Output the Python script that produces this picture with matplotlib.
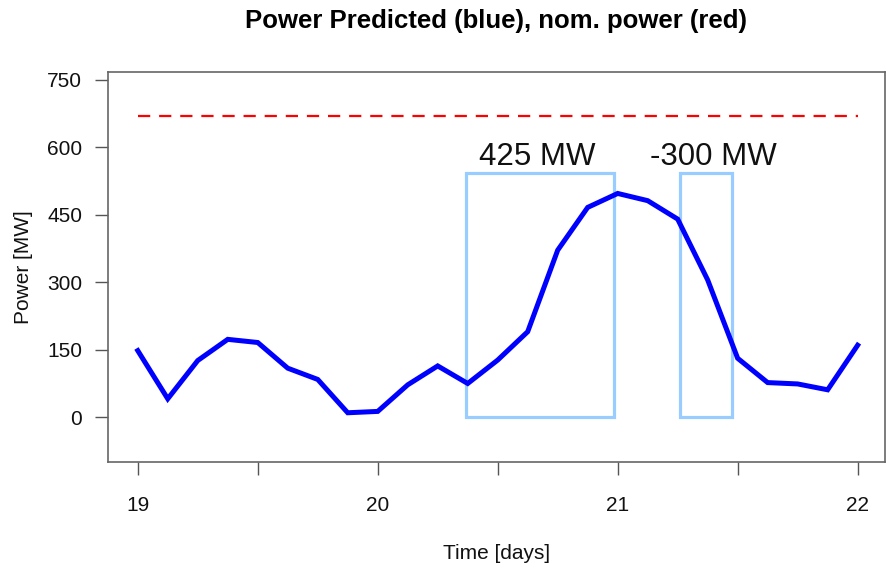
import matplotlib.pyplot as plt
from matplotlib.patches import Rectangle

# values
time_days = [19.0, 19.125, 19.25, 19.375, 19.5, 19.625, 19.75, 19.875,
             20.0, 20.125, 20.25, 20.375, 20.5, 20.625, 20.75, 20.875,
             21.0, 21.125, 21.25, 21.375, 21.5, 21.625, 21.75, 21.875, 22.0]
power_pred = [148, 41, 126, 173, 166, 109, 84, 10,
              13, 72, 114, 75, 127, 190, 371, 466,
              497, 481, 440, 305, 131, 77, 74, 61, 160]
nom_power = 668

# highlighted windows: (start day, end day, top MW)
box_start = [20.367, 21.26]
box_end = [20.985, 21.477]
box_top = [543, 543]
box_labels = ['425 MW', '-300 MW']
label_x = [20.666, 21.399]
label_y = [578, 578]

x_ticks = [19, 19.5, 20, 20.5, 21, 21.5, 22]
x_ticklabels = ['19', '', '20', '', '21', '', '22']
y_ticks = [0, 150, 300, 450, 600, 750]

plt.rcParams['font.family'] = ['Liberation Sans', 'DejaVu Sans']

fig = plt.figure(figsize=(8.87, 5.69), dpi=100)
ax = fig.add_axes([108 / 887, 1 - 462.3 / 569, (885 - 108) / 887, (462.3 - 72.3) / 569])

ax.plot([time_days[0], time_days[-1]], [nom_power, nom_power],
        color='#FF0000', lw=1.6, dashes=(5.5, 4))

for x0, x1, top in zip(box_start, box_end, box_top):
    ax.add_patch(Rectangle((x0, 0), x1 - x0, top, fill=False,
                           edgecolor='#99CCFF', lw=2.3))

ax.plot(time_days, power_pred, color='#0000FF', lw=3.6, solid_joinstyle='miter')

for lab, lx, ly in zip(box_labels, label_x, label_y):
    ax.text(lx, ly, lab, ha='center', va='center', fontsize=22.5, color='#111111')

ax.set_xlim(18.876, 22.114)
ax.set_ylim(-100, 766)
ax.set_xticks(x_ticks)
ax.set_xticklabels(x_ticklabels)
ax.set_yticks(y_ticks)
ax.tick_params(axis='both', length=9.2, width=1, color='#555555',
               labelsize=15, labelcolor='#111111')
ax.tick_params(axis='x', pad=15)
ax.tick_params(axis='y', pad=9.4)
for sp in ax.spines.values():
    sp.set_color('#666666')
    sp.set_linewidth(1.2)

ax.set_xlabel('Time [days]', fontsize=15, color='#111111')
ax.xaxis.set_label_coords(0.5, -0.21)
ax.set_ylabel('Power [MW]', fontsize=15, color='#111111')
ax.yaxis.set_label_coords(-0.097, 0.5)
fig.text(496.5 / 887, 1 - 21 / 569, 'Power Predicted (blue), nom. power (red)',
         ha='center', va='center', fontsize=18.5, fontweight='bold')

fig.savefig('out.png', dpi=100)
